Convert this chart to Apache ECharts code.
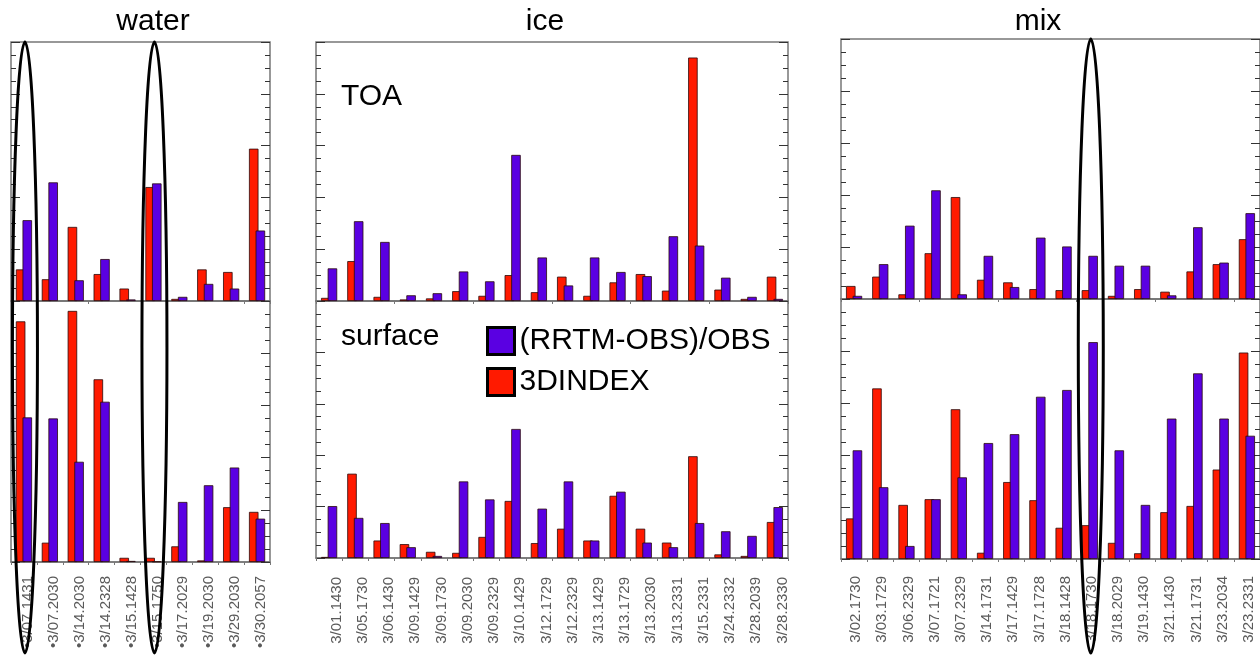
<!DOCTYPE html>
<html><head><meta charset="utf-8">
<script src="https://cdn.jsdelivr.net/npm/echarts@6/dist/echarts.min.js"></script>
<style>html,body{margin:0;padding:0;background:#fff}#c{width:1260px;height:656px}</style>
</head><body><div id="c"></div>
<script>
// ---------- data ----------
const waterCats = ['•3/07.1431','•3/07.2030','•3/14.2030','•3/14.2328','•3/15.1428','•3/15.1750','•3/17.2029','•3/19.2030','•3/29.2030','•3/30.2057'];
const waterToaIndex = [0.61,0.42,1.43,0.52,0.24,2.20,0.04,0.61,0.56,2.94];
const waterToaRrtm  = [1.56,2.29,0.40,0.81,0.03,2.27,0.08,0.33,0.24,1.36];
const waterSfcIndex = [4.61,0.37,4.81,3.50,0.08,0.08,0.30,0.03,1.05,0.96];
const waterSfcRrtm  = [2.77,2.75,1.92,3.07,0.02,0.01,1.15,1.47,1.81,0.83];

const iceCats = ['3/01.1430','3/05.1730','3/06.1430','3/09.1429','3/09.1730','3/09.2030','3/09.2329','3/10.1429','3/12.1729','3/12.2329','3/13.1429','3/13.1729','3/13.2030','3/13.2331','3/15.2331','3/24.2332','3/28.2039','3/28.2330'];
const iceToaIndex = [0.06,0.77,0.08,0.03,0.05,0.19,0.10,0.50,0.17,0.47,0.10,0.36,0.52,0.20,4.70,0.22,0.04,0.47];
const iceToaRrtm  = [0.63,1.54,1.14,0.11,0.15,0.57,0.38,2.82,0.84,0.30,0.84,0.56,0.48,1.25,1.07,0.45,0.08,0.04];
const iceSfcIndex = [0.02,1.64,0.34,0.27,0.12,0.10,0.41,1.11,0.29,0.57,0.34,1.21,0.57,0.30,1.98,0.07,0.04,0.70];
const iceSfcRrtm  = [1.01,0.78,0.68,0.21,0.04,1.49,1.14,2.51,0.96,1.49,0.34,1.29,0.30,0.21,0.68,0.52,0.43,0.99];

const mixCats = ['3/02.1730','3/03.1729','3/06.2329','3/07.1721','3/07.2329','3/14.1731','3/17.1429','3/17.1728','3/18.1428','3/18.1730','3/18.2029','3/19.1430','3/21.1430','3/21.1731','3/23.2034','3/23.2331'];
const mixToaIndex = [0.25,0.43,0.09,0.88,1.96,0.37,0.32,0.19,0.17,0.17,0.06,0.19,0.14,0.53,0.67,1.15];
const mixToaRrtm  = [0.06,0.67,1.41,2.09,0.09,0.83,0.23,1.18,1.01,0.83,0.64,0.64,0.07,1.38,0.70,1.65];
const mixSfcIndex = [0.78,3.28,1.04,1.15,2.88,0.12,1.48,1.13,0.60,0.65,0.31,0.11,0.90,1.02,1.72,3.97];
const mixSfcRrtm  = [2.09,1.38,0.25,1.15,1.57,2.23,2.40,3.12,3.25,4.17,2.09,1.04,2.70,3.57,2.70,2.37];

const panelTitles = ['water','ice','mix'];
const seriesNames = ['3DINDEX','(RRTM-OBS)/OBS'];
const legendOrder = ['(RRTM-OBS)/OBS','3DINDEX'];
// circled categories: [panel, category index]
const circled = [[0,0],[0,5],[2,9]];

// ---------- layout / style ----------
const FONT = '"Liberation Sans", Arial, sans-serif';
const RED = '#ff1a00', PURPLE = '#5a00e2';
const panels = [
  {cats: waterCats, toa:[waterToaIndex, waterToaRrtm], sfc:[waterSfcIndex, waterSfcRrtm], left:11, width:259, top:42, mid:301, bottom:562, margin:14, lh:8, tx:153},
  {cats: iceCats, toa:[iceToaIndex, iceToaRrtm], sfc:[iceSfcIndex, iceSfcRrtm], left:316, width:472, top:42, mid:301, bottom:558, margin:19, lh:15, tx:545},
  {cats: mixCats, toa:[mixToaIndex, mixToaRrtm], sfc:[mixSfcIndex, mixSfcRrtm], left:841, width:419, top:39, mid:299, bottom:559, margin:17, lh:4, tx:1038}
];

const grid = [], xAxis = [], yAxis = [], series = [];
panels.forEach((p, pi) => {
  [['toa', p.top, p.mid], ['sfc', p.mid, p.bottom]].forEach(([key, t, b], si) => {
    const gi = grid.length;
    grid.push({left: p.left, width: p.width, top: t, height: b - t, show: true,
      borderColor: '#777', borderWidth: 1.5, backgroundColor: 'transparent'});
    xAxis.push({type: 'category', gridIndex: gi, data: p.cats, boundaryGap: true,
      axisLine: {show: true, lineStyle: {color: '#777', width: 1.5}},
      axisTick: {show: true, length: 3, lineStyle: {color: '#777'}},
      axisLabel: si === 1 ? {show: true, interval: 0, rotate: 90, color: '#5a5a5a', fontSize: 15,
        fontFamily: FONT, margin: p.margin, verticalAlign: 'top', lineHeight: p.lh} : {show: false},
      splitLine: {show: false}});
    ['left', 'right'].forEach(pos => {
      yAxis.push({type: 'value', gridIndex: gi, position: pos, min: 0, max: 5, interval: 1,
        axisLine: {show: false},
        axisTick: {show: true, inside: true, length: 9, lineStyle: {color: '#333', width: 1}},
        minorTick: {show: true, splitNumber: 4, length: 5, lineStyle: {color: '#333', width: 1}},
        axisLabel: {show: false}, splitLine: {show: false}});
    });
    const vals = p[key];
    [0, 1].forEach(k => {
      series.push({type: 'bar', name: seriesNames[k], xAxisIndex: gi, yAxisIndex: gi * 2,
        data: vals[k], barWidth: 9.5, barGap: '-30%', barCategoryGap: '40%', animation: false,
        itemStyle: {color: k === 0 ? RED : PURPLE, borderColor: '#2a0a0a', borderWidth: 0.8}});
    });
  });
});

const texts = panelTitles.map((t, i) => ({id: 'title' + i, type: 'text', z: 50,
  style: {text: t, x: panels[i].tx, y: 22, font: '30px ' + FONT, fill: '#000', align: 'center', verticalAlign: 'middle'}}));
texts.push({id: 'toa', type: 'text', z: 50, style: {text: 'TOA', x: 341, y: 97, font: '30px ' + FONT, fill: '#000', align: 'left', verticalAlign: 'middle'}});
texts.push({id: 'sfc', type: 'text', z: 50, style: {text: 'surface', x: 341, y: 337, font: '30px ' + FONT, fill: '#000', align: 'left', verticalAlign: 'middle'}});

const chart = echarts.init(document.getElementById('c'), null, {renderer: 'canvas'});
chart.setOption({
  animation: false,
  backgroundColor: '#fff',
  grid, xAxis, yAxis, series,
  legend: {data: legendOrder, orient: 'vertical', left: 486, top: 326, padding: 0, icon: 'rect',
    itemWidth: 27, itemHeight: 27, itemGap: 11, selectedMode: false,
    itemStyle: {borderColor: '#000', borderWidth: 3},
    textStyle: {fontSize: 30, color: '#000', fontFamily: FONT}},
  graphic: {elements: texts}
});

const ellipses = circled.map(([pi, ci], n) => {
  const gi = pi * 2 + 1;
  const px = chart.convertToPixel({gridIndex: gi}, [ci, 0]);
  const top = panels[pi].top, bot = 653;
  return {id: 'ell' + n, type: 'ellipse', z: 100,
    shape: {cx: px[0] + 1, cy: (top + bot) / 2, rx: 12.5, ry: (bot - top) / 2},
    style: {fill: 'none', stroke: '#000', lineWidth: 3}};
});
chart.setOption({graphic: {elements: texts.concat(ellipses)}});
</script></body></html>
